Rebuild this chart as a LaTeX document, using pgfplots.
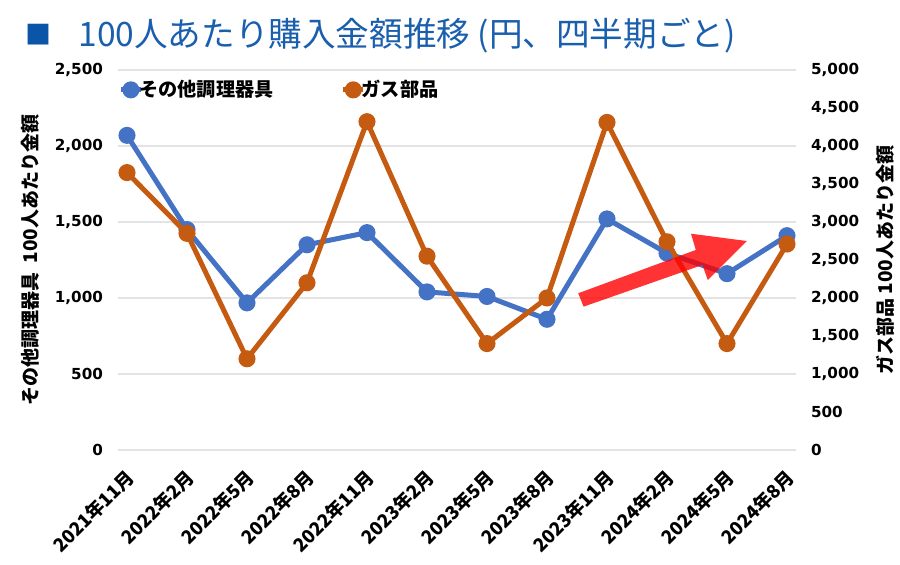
\documentclass[border=0pt]{standalone}
\usepackage{fontspec}
\setmainfont{DejaVu Sans}
\newfontfamily\jp{Noto Sans CJK JP}
\usepackage{pgfplots}
\pgfplotsset{compat=1.18}
\definecolor{sBlue}{HTML}{4472C4}
\definecolor{sOrange}{HTML}{C55A11}
\definecolor{titleSq}{HTML}{0B55A8}
\definecolor{titleTx}{HTML}{1A5FAD}
\definecolor{gridc}{HTML}{E3E3E3}
\begin{document}
\begin{tikzpicture}
\path[use as bounding box] (-59pt,-57.5pt) rectangle (391pt,225pt);
\pgfplotsset{
  common/.style={
    scale only axis, width=339pt, height=190pt,
    xmin=-0.15, xmax=11.15,
    xtick={0,...,11},
    major tick length=0pt,
    axis line style={draw=none},
    /pgf/number format/assume math mode=true,
    /pgf/number format/1000 sep={,},
    scaled y ticks=false,
    yticklabel style={font=\bfseries\fontsize{7.6}{9}\selectfont},
  },
}
\begin{axis}[common,
  ymin=0, ymax=2500, ytick={0,500,...,2500},
  ymajorgrids, grid style={gridc, line width=0.6pt},
  xticklabels={2021年11月,2022年2月,2022年5月,2022年8月,2022年11月,2023年2月,2023年5月,2023年8月,2023年11月,2024年2月,2024年5月,2024年8月},
  xticklabel style={font=\jp\bfseries\fontsize{9.3}{10}\selectfont, rotate=45, anchor=east, yshift=-9.8pt, xshift=-3.7pt},
  yticklabel style={xshift=-4pt},
  ylabel={その他調理器具\ \ 100人あたり金額},
  every axis y label/.style={at={(axis description cs:-0.13,0.5)}, rotate=90, anchor=center, font=\jp\bfseries\fontsize{9.5}{11}\selectfont},
]
\addplot[sBlue, line width=2.5pt, mark=*, mark size=3pt] coordinates {
(0,2070) (1,1450) (2,968) (3,1350) (4,1430) (5,1040) (6,1010) (7,860) (8,1520) (9,1295) (10,1160) (11,1410)};
\end{axis}
\begin{axis}[common,
  ymin=0, ymax=5000, ytick={0,500,...,5000},
  axis y line*=right, axis x line=none,
  xticklabels={},
  yticklabel style={xshift=4pt},
  ylabel={ガス部品 100人あたり金額},
  every axis y label/.style={at={(axis description cs:1.131,0.5)}, rotate=90, anchor=center, font=\jp\bfseries\fontsize{9.5}{11}\selectfont},
  legend style={at={(axis description cs:0,0.977)}, anchor=north west, draw=none, fill=none,
    font=\jp\bfseries\fontsize{9.6}{11}\selectfont, legend columns=2,
    /tikz/every odd column/.append style={column sep=-2.5pt},
    /tikz/every even column/.append style={column sep=33pt},
    inner sep=0pt, nodes={inner sep=0.5pt}},
  legend image code/.code={\draw[mark repeat=2,mark phase=2,#1] plot coordinates {(0pt,0pt) (5pt,0pt) (10pt,0pt)};},
]
\addlegendimage{sBlue, line width=2.5pt, mark=*, mark size=3pt}
\addlegendentry{その他調理器具}
\addplot[sOrange, line width=2.5pt, mark=*, mark size=3pt] coordinates {
(0,3650) (1,2850) (2,1200) (3,2200) (4,4320) (5,2550) (6,1400) (7,2000) (8,4310) (9,2740) (10,1400) (11,2710)};
\addlegendentry{ガス部品}
\fill[red, opacity=0.8] (axis cs:7.52,2062) -- (axis cs:9.48,2632) -- (axis cs:9.40,2846) -- (axis cs:10.33,2750) -- (axis cs:9.68,2237) -- (axis cs:9.59,2434) -- (axis cs:7.61,1886) -- cycle;
\end{axis}
\node[anchor=center, text=titleSq, font=\jp\fontsize{13}{15}\selectfont, inner sep=0pt] at (-39.5pt,207.5pt) {■};
\node[anchor=west, text=titleTx, font=\jp\fontsize{16.8}{19}\selectfont, inner sep=0pt] at (-20pt,207pt) {100人あたり購入金額推移 (円、四半期ごと)};
\end{tikzpicture}
\end{document}
